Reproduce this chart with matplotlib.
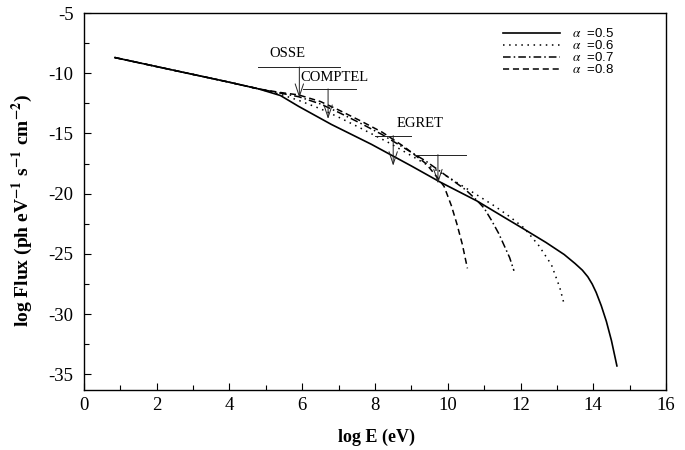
import matplotlib
matplotlib.use("Agg")
from matplotlib import pyplot as plt
from matplotlib.ticker import MultipleLocator

plt.rcParams['font.family'] = ['Liberation Serif', 'DejaVu Serif']
plt.rcParams['mathtext.fontset'] = 'stix'
plt.rcParams['axes.unicode_minus'] = False

# spectra (log E in eV, log flux)
x_05 = [0.85, 2, 3, 4, 4.8, 5.4, 5.9, 6.8, 7.9, 9.0, 9.8, 10.8, 11.6, 12.1,
        12.7, 13.2, 13.5, 13.7, 13.85, 13.97, 14.08, 14.22, 14.36, 14.5, 14.65]
y_05 = [-8.7, -9.45, -10.1, -10.75, -11.3, -11.85, -12.75, -14.25, -15.9,
        -17.7, -19.05, -20.6, -22.05, -22.95, -24.05, -25.05, -25.8, -26.35,
        -26.9, -27.5, -28.2, -29.3, -30.6, -32.2, -34.3]

x_06 = [0.85, 2, 3, 4, 4.8, 5.4, 5.9, 6.5, 7.0, 7.6, 8.4, 9.2, 10.0, 10.8,
        11.3, 11.7, 12.1, 12.5, 12.85, 13.08, 13.21]
y_06 = [-8.7, -9.45, -10.1, -10.75, -11.3, -11.75, -12.25, -12.95, -13.65,
        -14.55, -15.8, -17.2, -18.6, -20.1, -21.05, -21.9, -22.85, -24.3,
        -25.9, -27.8, -29.3]

x_07 = [0.85, 2, 3, 4, 4.8, 5.4, 5.9, 6.5, 7.0, 7.6, 8.2, 8.8, 9.4, 10.0,
        10.5, 10.8, 11.0, 11.2, 11.4, 11.55, 11.7, 11.82]
y_07 = [-8.7, -9.45, -10.1, -10.75, -11.3, -11.65, -11.95, -12.55, -13.25,
        -14.15, -15.1, -16.2, -17.3, -18.6, -19.7, -20.55, -21.2, -22.2,
        -23.3, -24.3, -25.3, -26.4]

x_08 = [0.85, 2, 3, 4, 4.8, 5.4, 5.9, 6.5, 7.0, 7.6, 8.2, 8.8, 9.4, 9.7,
        9.9, 10.1, 10.25, 10.4, 10.54]
y_08 = [-8.7, -9.45, -10.1, -10.75, -11.3, -11.6, -11.8, -12.35, -13.05,
        -13.95, -14.9, -16.1, -17.5, -18.6, -19.4, -21.0, -22.5, -24.2, -26.2]

alphas = ['0.5', '0.6', '0.7', '0.8']

# upper limits (horizontal bar, arrow down)
lim_names = ['OSSE', 'COMPTEL', 'EGRET', '']
lim_x0 = [4.79, 6.03, 8.0, 9.09]
lim_x1 = [7.03, 7.49, 9.0, 10.49]
lim_y = [-9.49, -11.3, -15.18, -16.76]
lim_xv = [5.92, 6.71, 8.5, 9.73]
lim_ytip = [-12.05, -13.8, -17.68, -19.15]
name_x = [5.58, 5.96, 9.23, 0]
name_y = [-8.36, -10.33, -14.21, 0]
name_ha = ['center', 'left', 'center', 'center']

fig = plt.figure(figsize=(6.85, 4.5), dpi=100)
ax = fig.add_axes([0.1226, 0.1333, 0.8497, 0.8378])

styles = ['-', (0, (1, 3)), (0, (5, 2, 1, 2)), (0, (4, 2.5))]
curves = [(x_05, y_05), (x_06, y_06), (x_07, y_07), (x_08, y_08)]
for (xs, ys), ls, a in zip(curves, styles, alphas):
    ax.plot(xs, ys, color='black', lw=1.2 if ls == '-' else 1.1, linestyle=ls,
            label=r'$\alpha$  =' + a)

for i in range(len(lim_names)):
    ax.plot([lim_x0[i], lim_x1[i]], [lim_y[i], lim_y[i]], color='#222222', lw=0.7)
    ax.annotate('', xy=(lim_xv[i], lim_ytip[i]), xytext=(lim_xv[i], lim_y[i]),
                arrowprops=dict(arrowstyle='->,head_length=0.6,head_width=0.2',
                                color='#222222', lw=0.7, mutation_scale=15,
                                shrinkA=0, shrinkB=0))
    if lim_names[i]:
        ax.text(name_x[i], name_y[i], lim_names[i], ha=name_ha[i], va='center',
                fontsize=10.5)

ax.set_xlim(0, 16)
ax.set_ylim(-36.3, -5)
ax.xaxis.set_major_locator(MultipleLocator(2))
ax.xaxis.set_minor_locator(MultipleLocator(1))
ax.yaxis.set_major_locator(MultipleLocator(5))
ax.yaxis.set_minor_locator(MultipleLocator(2.5))
ax.tick_params(which='both', direction='in', top=False, right=False)
ax.tick_params(which='major', length=5, width=0.8, labelsize=13.5)
ax.tick_params(which='minor', length=3.5, width=0.8)
ax.tick_params(axis='x', pad=5)
ax.tick_params(axis='y', pad=7.5)
for s in ax.spines.values():
    s.set_linewidth(1.0)

ax.set_xlabel('log E (eV)', fontsize=13, fontweight='bold')
ax.set_ylabel(r'log Flux (ph eV$^{\mathbf{-1}}$ s$^{\mathbf{-1}}$ cm$^{\mathbf{-2}}$)',
              fontsize=14, fontweight='bold')
ax.xaxis.set_label_coords(0.502, -0.103)
ax.yaxis.set_label_coords(-0.084, 0.477)

ax.legend(loc='upper left', bbox_to_anchor=(0.72, 0.962), frameon=False,
          prop={'family': 'Liberation Sans', 'size': 9.5}, handlelength=4.3,
          handletextpad=0.9, labelspacing=-0.08, borderpad=0, borderaxespad=0)

fig.savefig('out.png', dpi=100)
